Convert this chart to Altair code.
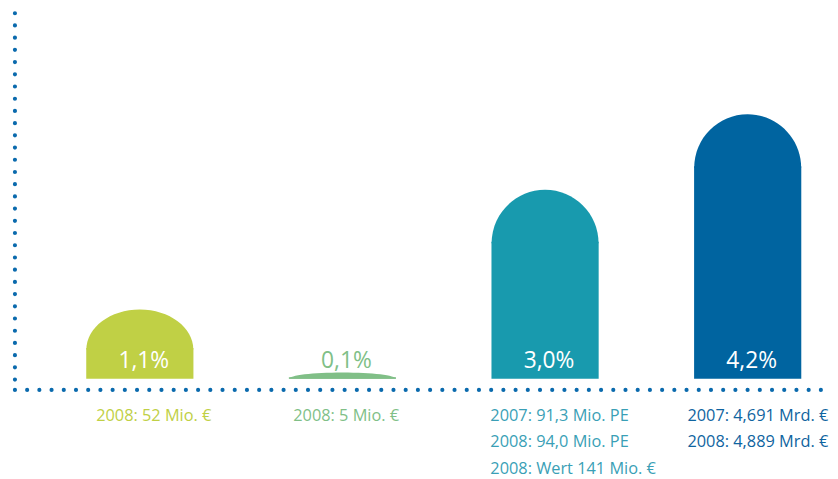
import altair as alt
import pandas as pd

# ---- data ----
categories = ["K1", "K2", "K3", "K4"]
values = [1.1, 0.1, 3.0, 4.2]
value_labels = ["1,1%", "0,1%", "3,0%", "4,2%"]
notes = [
    ["2008: 52 Mio. €"],
    ["2008: 5 Mio. €"],
    ["2007: 91,3 Mio. PE", "2008: 94,0 Mio. PE", "2008: Wert 141 Mio. €"],
    ["2007: 4,691 Mrd. €", "2008: 4,889 Mrd. €"],
]

# ---- style ----
bar_colors = ["#c0d045", "#80bf87", "#189aae", "#0064a0"]
note_colors = ["#c0d045", "#80bf87", "#3a9fb6", "#0f64a0"]
dot_color = "#0a6aad"
FONT = "Open Sans"
cap_k = [0.75, 0.1188, 1.0, 1.0]          # flattening of the rounded top (height / half-width)
CAP_W = 108                                # drawn width of the rounded top in px
CAP_DATA = (CAP_W / 2) / (267 / 4.2)       # half cap width expressed in value units
cap_paths = [f"M -1 0 A 1 {k} 0 0 1 1 0 Z" for k in cap_k]

bars_df = pd.DataFrame({"cat": categories, "value": values, "label": value_labels, "k": cap_k})
notes_df = pd.DataFrame(
    [{"cat": c, "line": i, "text": t} for c, lines in zip(categories, notes) for i, t in enumerate(lines)]
)

x_scale = alt.Scale(type="band", domain=categories, range=[79, 801],
                    paddingInner=0.471, paddingOuter=0, round=False)
y_scale = alt.Scale(domain=[0, 4.2], range=[372, 105])
bar_color_scale = alt.Scale(domain=categories, range=bar_colors)
note_color_scale = alt.Scale(domain=categories, range=note_colors)
shape_scale = alt.Scale(domain=categories, range=cap_paths)

base = alt.Chart(bars_df).transform_calculate(
    capbase=f"datum.value - datum.k * {CAP_DATA}",
    rtop=f"datum.value - datum.k * {CAP_DATA} + 0.025",
)

bars = base.mark_bar().encode(
    x=alt.X("cat:N", scale=x_scale, axis=None),
    y=alt.Y("rtop:Q", scale=y_scale, axis=None),
    y2=alt.datum(0),
    color=alt.Color("cat:N", scale=bar_color_scale, legend=None),
)

caps = base.mark_point(filled=True, opacity=1, strokeWidth=0, size=CAP_W * CAP_W).encode(
    x=alt.X("cat:N", scale=x_scale, axis=None, bandPosition=0.5),
    y=alt.Y("capbase:Q", scale=y_scale, axis=None),
    shape=alt.Shape("cat:N", scale=shape_scale, legend=None),
    color=alt.Color("cat:N", scale=bar_color_scale, legend=None),
)

labels = base.mark_text(
    font=FONT, fontSize=23, align="center", baseline="alphabetic", dx=4
).encode(
    x=alt.X("cat:N", scale=x_scale, axis=None, bandPosition=0.5),
    y=alt.value(361.5),
    text="label:N",
    color=alt.condition(
        alt.datum.value > 0.5,
        alt.value("white"),
        alt.Color("cat:N", scale=bar_color_scale, legend=None),
    ),
)

bar_group = alt.layer(bars, caps, labels)

note_text = alt.Chart(notes_df).mark_text(
    font=FONT, fontSize=16.5, align="left", baseline="alphabetic"
).encode(
    x=alt.X("cat:N", scale=alt.Scale(type="point", domain=categories, range=[89, 686], padding=0), axis=None),
    y=alt.Y("line:Q", scale=alt.Scale(domain=[0, 2], range=[414.7, 468]), axis=None),
    text="text:N",
    color=alt.Color("cat:N", scale=note_color_scale, legend=None),
)

dot_style = dict(strokeDash=[0, 12.33], strokeCap="round", strokeWidth=4.2, color=dot_color)
v_axis = alt.Chart(pd.DataFrame({"a": [0]})).mark_rule(**dot_style).encode(
    x=alt.value(7), y=alt.value(3), y2=alt.value(376)
)
h_axis = alt.Chart(pd.DataFrame({"a": [0]})).mark_rule(**dot_style).encode(
    x=alt.value(7), x2=alt.value(823), y=alt.value(383.3)
)

chart = (
    alt.layer(v_axis, h_axis, bar_group, note_text)
    .resolve_scale(x="independent", y="independent", color="independent")
    .properties(width=830, height=471, padding=0, autosize="none")
    .configure_view(stroke=None)
)

chart.save("out.html", embed_options={"renderer": "svg", "actions": False})
